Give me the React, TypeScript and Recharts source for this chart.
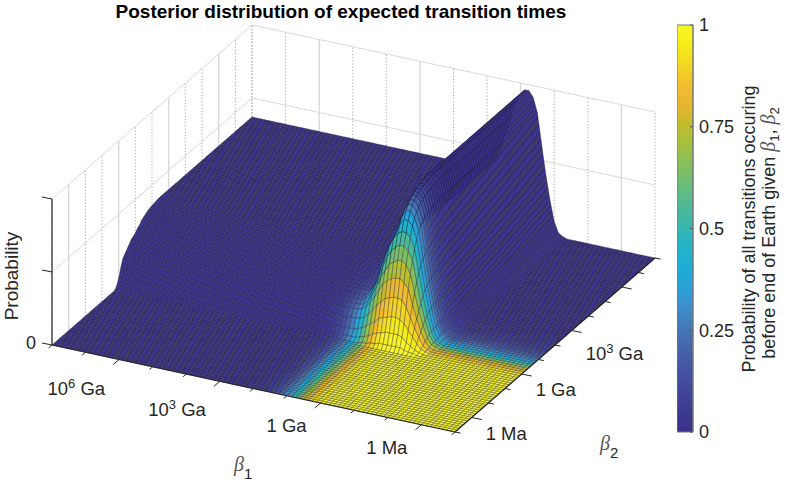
import React from "react";
import { BarChart, Bar, Scatter, ScatterChart, XAxis, YAxis } from "recharts";

const W = 785;
const H = 482;
const FONT = "'Liberation Sans', Arial, sans-serif";
const INK = "#262626";

// log10(beta / Ga) decades: 13 ticks on each floor edge
const beta1Ticks = [0, 1, 2, 3, 4, 5, 6, 7, 8, 9, 10, 11, 12];
const beta2Ticks = [0, 1, 2, 3, 4, 5, 6, 7, 8, 9, 10, 11, 12];
const beta1Major = [2, 5, 8, 11];
const beta2Major = [1, 4, 7, 10];
const beta1Labels = ["10^6 Ga", "10^3 Ga", "1 Ga", "1 Ma"];
const beta2Labels = ["1 Ma", "1 Ga", "10^3 Ga"];
const probTicks = [0, 0.5, 1];
const colorTicks = [0, 0.25, 0.5, 0.75, 1];

// colorbar read from bottom to top, one stop every 0.05
const colorStops = [
  "#3a3189", "#3d3a92", "#41469a", "#4453a2", "#4663a8", "#4676b5", "#3f8bc8",
  "#2b9fd8", "#1fabd7", "#22b3ca", "#33b7b0", "#4cb998", "#66bc7e", "#82bf60",
  "#9fc144", "#bdbd2e", "#e6b531", "#f1bd30", "#f3d624", "#f5ec18", "#f8f82a",
];

// Surface heights in percent of the z box. Columns run along beta1, rows along beta2.
const makeHeight = (plateau: number, ridge: number[]) =>
  [...Array(55).fill(plateau), ...ridge, ...Array(22).fill(0)];

const floorRow = makeHeight(0, [0, 0, 0, 0, 0, 0, 0, 0, 0, 0, 0, 0, 0, 0, 0, 0, 0, 0, 0, 0]);
const h30 = makeHeight(0, [0, 0, 0, 0, 1, 1, 2, 2, 3, 3, 3, 3, 3, 3, 2, 1, 1, 0, 0, 0]);
const h31 = makeHeight(2, [2, 2, 2, 3, 4, 5, 7, 8, 9, 10, 10, 10, 10, 9, 6, 4, 2, 1, 0, 0]);
const h32 = makeHeight(6, [6, 6, 7, 8, 10, 12, 14, 17, 18, 19, 20, 20, 19, 17, 13, 9, 5, 2, 1, 0]);
const h33 = makeHeight(12, [12, 12, 13, 14, 17, 20, 24, 27, 30, 31, 32, 32, 31, 27, 20, 14, 8, 3, 1, 0]);
const h34 = makeHeight(17, [17, 17, 18, 20, 24, 28, 33, 38, 41, 43, 44, 44, 42, 38, 28, 19, 11, 5, 1, 0]);
const h35 = makeHeight(19, [19, 19, 20, 23, 28, 34, 41, 46, 51, 53, 55, 55, 53, 47, 35, 23, 14, 6, 2, 1]);
const h36 = makeHeight(21, [21, 21, 23, 26, 32, 39, 47, 54, 59, 62, 64, 64, 61, 55, 41, 27, 16, 7, 2, 1]);
const h37 = makeHeight(23, [23, 23, 25, 29, 35, 44, 52, 60, 66, 70, 72, 72, 69, 62, 46, 31, 18, 8, 2, 1]);
const h38 = makeHeight(25, [25, 25, 26, 30, 35, 41, 50, 59, 68, 75, 79, 79, 76, 67, 50, 34, 20, 8, 2, 1]);
const h39 = makeHeight(26, [26, 26, 27, 29, 33, 41, 50, 61, 71, 79, 84, 84, 80, 72, 53, 36, 21, 9, 3, 1]);
const h40 = makeHeight(27, [27, 27, 28, 30, 34, 42, 52, 63, 74, 82, 87, 87, 83, 74, 55, 37, 22, 9, 3, 1]);
const h41 = makeHeight(29, [29, 29, 30, 32, 36, 44, 54, 65, 76, 84, 89, 89, 85, 76, 57, 38, 22, 9, 3, 1]);
const h42 = makeHeight(30, [30, 31, 31, 33, 38, 46, 56, 67, 78, 86, 91, 91, 87, 78, 58, 39, 23, 9, 3, 1]);
const h43 = makeHeight(32, [33, 34, 35, 38, 43, 50, 60, 70, 80, 87, 92, 92, 88, 79, 58, 39, 23, 10, 3, 1]);
const h44 = makeHeight(33, [34, 35, 36, 39, 44, 51, 61, 71, 81, 88, 93, 93, 89, 79, 59, 40, 23, 10, 3, 1]);
const h45 = makeHeight(34, [35, 36, 37, 40, 45, 52, 62, 72, 82, 89, 94, 94, 90, 80, 60, 40, 24, 10, 3, 1]);
const h46 = makeHeight(35, [36, 37, 38, 41, 46, 53, 63, 73, 82, 89, 94, 94, 90, 80, 60, 40, 24, 10, 3, 1]);
const h47 = makeHeight(35.5, [37, 38, 39, 42, 47, 54, 64, 74, 83, 90, 95, 95, 91, 81, 60, 41, 24, 10, 3, 1]);
const h48 = makeHeight(36, [37, 38, 39, 42, 47, 54, 64, 74, 83, 90, 95, 95, 91, 81, 60, 41, 24, 10, 3, 1]);
const h49 = makeHeight(36.3, [37, 38, 40, 43, 48, 55, 65, 75, 84, 91, 96, 96, 91, 81, 60, 41, 24, 10, 3, 1]);
const h50 = makeHeight(36.5, [37, 38, 40, 44, 49, 56, 66, 76, 85, 92, 96, 96, 92, 82, 61, 41, 24, 10, 3, 1]);
const farRow = makeHeight(37, [37, 38, 40, 44, 50, 58, 68, 78, 85, 92, 96, 96, 92, 82, 61, 41, 24, 10, 3, 1]);

const heightRows: number[][] = [
  ...Array(30).fill(floorRow),
  h30, h31, h32, h33, h34, h35, h36, h37, h38, h39, h40,
  h41, h42, h43, h44, h45, h46, h47, h48, h49, h50,
  ...Array(46).fill(farRow),
];

// Colour value in percent, same layout as the heights
const makeColor = (edge: number, band: number[]) =>
  [...Array(48).fill(0), ...band, ...Array(30).fill(edge)];

const c29 = makeColor(100, [1, 2, 3, 5, 8, 12, 18, 26, 34, 44, 55, 66, 76, 86, 93, 96, 98, 99, 100]);
const c30 = makeColor(99, [1, 2, 3, 5, 8, 12, 18, 26, 34, 44, 54, 65, 75, 85, 92, 95, 97, 98, 99]);
const c31 = makeColor(97, [1, 2, 3, 5, 8, 12, 17, 25, 33, 43, 53, 64, 74, 83, 90, 93, 95, 96, 97]);
const c32 = makeColor(93, [1, 2, 3, 5, 7, 11, 17, 24, 32, 41, 51, 61, 71, 80, 86, 89, 91, 92, 93]);
const c33 = makeColor(87, [1, 2, 3, 4, 7, 10, 16, 23, 30, 38, 48, 57, 66, 74, 78, 82, 84, 85, 86]);
const c34 = makeColor(80, [1, 2, 2, 4, 6, 10, 14, 21, 27, 35, 44, 53, 61, 68, 72, 75, 77, 78, 79]);
const c35 = makeColor(70, [1, 1, 2, 4, 6, 8, 13, 18, 24, 31, 39, 46, 53, 60, 63, 66, 67, 69, 69]);
const c36 = makeColor(60, [1, 1, 2, 3, 5, 7, 11, 16, 20, 26, 33, 40, 46, 51, 54, 56, 58, 59, 59]);
const c37 = makeColor(50, [1, 1, 2, 3, 4, 6, 9, 13, 17, 22, 28, 33, 38, 43, 45, 47, 48, 49, 50]);
const c38 = makeColor(40, [0, 1, 1, 2, 3, 5, 7, 10, 14, 18, 22, 26, 30, 34, 36, 38, 38, 39, 40]);
const c39 = makeColor(32, [0, 1, 1, 2, 3, 4, 6, 8, 11, 14, 18, 21, 24, 27, 29, 30, 31, 31, 32]);
const c40 = makeColor(26, [0, 1, 1, 1, 2, 3, 5, 7, 9, 11, 14, 17, 20, 22, 23, 24, 25, 25, 26]);
const c41 = makeColor(21, [0, 0, 1, 1, 2, 3, 4, 5, 7, 9, 12, 14, 16, 18, 19, 20, 20, 21, 21]);
const c42 = makeColor(16, [0, 0, 0, 1, 1, 2, 3, 4, 5, 7, 9, 10, 12, 13, 14, 14, 15, 15, 16]);
const c43 = makeColor(13, [0, 0, 0, 1, 1, 2, 2, 3, 4, 6, 7, 8, 9, 10, 11, 12, 12, 12, 13]);
const c44 = makeColor(10, [0, 0, 0, 0, 1, 1, 2, 3, 3, 4, 5, 6, 7, 8, 9, 9, 9, 10, 10]);
const c45 = makeColor(8, [0, 0, 0, 0, 1, 1, 1, 2, 3, 4, 4, 5, 6, 6, 7, 7, 7, 8, 8]);
const c46 = makeColor(6, [0, 0, 0, 0, 0, 1, 1, 2, 2, 3, 3, 4, 4, 5, 5, 5, 6, 6, 6]);
const c47 = makeColor(5, [0, 0, 0, 0, 0, 1, 1, 1, 2, 2, 3, 3, 4, 4, 4, 5, 5, 5, 5]);
const c48 = makeColor(4, [0, 0, 0, 0, 0, 0, 1, 1, 1, 2, 2, 3, 3, 3, 3, 4, 4, 4, 4]);
const c49 = makeColor(3, [0, 0, 0, 0, 0, 0, 1, 1, 1, 1, 2, 2, 2, 2, 3, 3, 3, 3, 3]);
const c50 = makeColor(2, [0, 0, 0, 0, 0, 0, 0, 1, 1, 1, 1, 1, 1, 2, 2, 2, 2, 2, 2]);
const c51 = makeColor(1, [0, 0, 0, 0, 0, 0, 0, 0, 0, 0, 1, 1, 1, 1, 1, 1, 1, 1, 1]);
const cZero = makeColor(0, [0, 0, 0, 0, 0, 0, 0, 0, 0, 0, 0, 0, 0, 0, 0, 0, 0, 0, 0]);

const colorRows: number[][] = [
  ...Array(30).fill(c29),
  c30, c31, c32, c33, c34, c35, c36, c37, c38, c39, c40,
  c41, c42, c43, c44, c45, c46, c47, c48, c49, c50, c51, c51,
  ...Array(44).fill(cZero),
];

// oblique view of the box, in pixels of the chart's data space
const project = (s: number, t: number, z: number) => ({
  px: 52 + 403 * s + 200 * t,
  py: 345 + 87 * s - 174 * t - 146 * z,
});

const hexToRgb = (hex: string) => [1, 3, 5].map((n) => parseInt(hex.slice(n, n + 2), 16));

const colorOf = (v: number) => {
  const pos = Math.min(0.9999, Math.max(0, v)) * (colorStops.length - 1);
  const k = Math.floor(pos);
  const a = hexToRgb(colorStops[k]);
  const b = hexToRgb(colorStops[k + 1]);
  const mix = a.map((c, n) => Math.round(c + (b[n] - c) * (pos - k)));
  return `rgb(${mix.join(",")})`;
};

// one entry per mesh cell, far cells first so near ones paint over them
const buildCells = () => {
  const cells: any[] = [];
  const n = heightRows.length - 1;
  for (let i = 0; i < n; i++) {
    for (let j = n - 1; j >= 0; j--) {
      const corners = [[i, j], [i + 1, j], [i + 1, j + 1], [i, j + 1]].map(([a, b]) =>
        project(a / n, b / n, heightRows[b][a] / 100)
      );
      const px = corners.reduce((sum, p) => sum + p.px, 0) / 4;
      const py = corners.reduce((sum, p) => sum + p.py, 0) / 4;
      const c =
        (colorRows[j][i] + colorRows[j][i + 1] + colorRows[j + 1][i] + colorRows[j + 1][i + 1]) / 400;
      cells.push({
        px,
        py,
        fill: colorOf(c),
        d: corners.map((p) => [p.px - px, p.py - py]),
      });
    }
  }
  return cells;
};

const cells = buildCells();

const CellShape = (props: any) => {
  const { cx, cy, payload } = props;
  const d =
    payload.d
      .map((p: number[], k: number) => `${k ? "L" : "M"}${(cx + p[0]).toFixed(2)} ${(cy + p[1]).toFixed(2)}`)
      .join("") + "Z";
  return <path d={d} fill={payload.fill} stroke="#1c1c2c" strokeOpacity={0.85} strokeWidth={0.4} strokeLinejoin="round" />;
};

const renderLabel = (text: string) => {
  const parts = text.split("^");
  if (parts.length === 1) return text;
  return (
    <>
      {parts[0]}
      <tspan dy={-7} fontSize={13}>{parts[1][0]}</tspan>
      <tspan dy={7}>{parts[1].slice(1)}</tspan>
    </>
  );
};

const TextShape = (props: any) => {
  const { cx, cy, payload } = props;
  return (
    <text
      x={cx}
      y={cy}
      textAnchor={payload.anchor}
      fontFamily={FONT}
      fontSize={payload.size || 18.5}
      fontWeight={payload.weight || "normal"}
      fill={payload.fill || INK}
      transform={payload.rotate ? `rotate(${payload.rotate} ${cx} ${cy})` : undefined}
    >
      {renderLabel(payload.text)}
    </text>
  );
};

const GreekShape = (props: any) => {
  const { cx, cy, payload } = props;
  return (
    <text x={cx} y={cy} fontFamily="'Liberation Serif', serif" fontSize={20} fontStyle="italic" fill="#555">
      β
      <tspan dy={8} fontFamily={FONT} fontStyle="normal" fontSize={15} fill={INK}>{payload.sub}</tspan>
    </text>
  );
};

const RotatedNote = (props: any) => {
  const { cx, cy, payload } = props;
  return (
    <text x={cx} y={cy} textAnchor="middle" fontFamily={FONT} fontSize={18} fill={INK} transform={`rotate(-90 ${cx} ${cy})`}>
      {payload.text}
      {payload.math && (
        <>
          <tspan fontFamily="'Liberation Serif', serif" fontStyle="italic" fontSize={20} fill="#555"> β</tspan>
          <tspan dy={4} fontSize={13}>1</tspan>
          <tspan dy={-4}>, </tspan>
          <tspan fontFamily="'Liberation Serif', serif" fontStyle="italic" fontSize={20} fill="#555">β</tspan>
          <tspan dy={4} fontSize={13}>2</tspan>
        </>
      )}
    </text>
  );
};

const noMark = () => <g />;

const segment = (key: string, a: any, b: any, stroke: string, width: number, dash?: string) => (
  <Scatter
    key={key}
    data={[a, b]}
    line={{ stroke, strokeWidth: width, strokeDasharray: dash }}
    shape={noMark}
    isAnimationActive={false}
  />
);

const GRID = "#d9d9d9";
const DOT = "#a8a8a8";

export default function App() {
  const walls = [
    segment("w1", project(0, 0, 1), project(0, 1, 1), GRID, 1),
    segment("w2", project(0, 0, 0.5), project(0, 1, 0.5), GRID, 1),
    segment("w3", project(0, 1, 1), project(1, 1, 1), GRID, 1),
    segment("w4", project(0, 1, 0.5), project(1, 1, 0.5), GRID, 1),
    ...beta2Ticks.map((k) => {
      const major = beta2Major.includes(k);
      return segment(`lw${k}`, project(0, k / 12, 0), project(0, k / 12, 1), major ? GRID : DOT, major ? 1.4 : 1, major ? undefined : "1.2 2");
    }),
    ...beta1Ticks.map((k) => {
      const major = beta1Major.includes(k);
      return segment(`rw${k}`, project(k / 12, 1, 0), project(k / 12, 1, 1), major ? GRID : DOT, major ? 1.4 : 1, major ? undefined : "1.2 2");
    }),
  ];

  const axes = [
    segment("ax1", project(0, 0, 0), project(1, 0, 0), INK, 1.2),
    segment("ax2", project(1, 0, 0), project(1, 1, 0), INK, 1.2),
    segment("ax3", project(0, 0, 0), project(0, 0, 1), INK, 1.2),
    ...beta1Ticks.map((k) => {
      const a = project(k / 12, 0, 0);
      const len = beta1Major.includes(k) ? 1 : 0.55;
      return segment(`t1${k}`, a, { px: a.px - 6 * len, py: a.py + 5 * len }, INK, 1);
    }),
    ...beta2Ticks.map((k) => {
      const a = project(1, k / 12, 0);
      const len = beta2Major.includes(k) ? 1 : 0.55;
      return segment(`t2${k}`, a, { px: a.px + 10 * len, py: a.py + 2 * len }, INK, 1);
    }),
    ...probTicks.map((p) => {
      const a = project(0, 0, p);
      return segment(`tz${p}`, a, { px: a.px - 10, py: a.py - 2 }, INK, 1);
    }),
  ];

  const texts = [
    { px: 36, py: 349, text: "0", anchor: "end", size: 18 },
    ...beta1Labels.map((text, n) => {
      const a = project(beta1Major[n] / 12, 0, 0);
      return { px: a.px - 14, py: a.py + (text.includes("^") ? 35 : 29), text, anchor: "end" };
    }),
    ...beta2Labels.map((text, n) => {
      const a = project(1, beta2Major[n] / 12, 0);
      return { px: a.px + 14, py: a.py + (text.includes("^") ? 29 : 22), text, anchor: "start" };
    }),
    { px: 341, py: 18, text: "Posterior distribution of expected transition times", anchor: "middle", size: 19, weight: "bold", fill: "#000" },
    { px: 18, py: 276, text: "Probability", anchor: "middle", size: 19, rotate: -90 },
  ];

  return (
    <div style={{ position: "absolute", left: 0, top: 0, width: W, height: H, background: "#fff" }}>
      <div style={{ position: "absolute", left: 0, top: 0 }}>
        <ScatterChart width={W} height={H} margin={{ top: 0, right: 0, bottom: 0, left: 0 }}>
          <XAxis type="number" dataKey="px" domain={[0, W]} hide />
          <YAxis type="number" dataKey="py" domain={[0, H]} reversed hide />
          {walls}
          <Scatter data={cells} shape={CellShape} isAnimationActive={false} />
          {axes}
          <Scatter data={texts} shape={TextShape} isAnimationActive={false} />
          <Scatter data={[{ px: 234, py: 471, sub: "1" }, { px: 600, py: 450, sub: "2" }]} shape={GreekShape} isAnimationActive={false} />
          <Scatter
            data={[
              { px: 755, py: 229, text: "Probability of all transitions occuring" },
              { px: 775, py: 233, text: "before end of Earth given", math: true },
            ]}
            shape={RotatedNote}
            isAnimationActive={false}
          />
        </ScatterChart>
      </div>
      <div style={{ position: "absolute", left: 677, top: 0 }}>
        <BarChart
          width={60}
          height={H}
          data={[{ name: "c", value: 1 }]}
          margin={{ top: 25, right: 0, bottom: 50, left: 0 }}
          barCategoryGap={0}
        >
          <defs>
            <linearGradient id="colorbar" x1="0" y1="1" x2="0" y2="0">
              {colorStops.map((c, n) => (
                <stop key={c + n} offset={n / (colorStops.length - 1)} stopColor={c} />
              ))}
            </linearGradient>
          </defs>
          <XAxis dataKey="name" hide />
          <YAxis
            orientation="right"
            width={44}
            domain={[0, 1]}
            ticks={colorTicks}
            tickFormatter={(v: number) => String(v)}
            axisLine={{ stroke: "#777" }}
            tickSize={-3}
            tickMargin={9}
            tickLine={{ stroke: "#555" }}
            tick={{ fill: INK, fontFamily: FONT, fontSize: 18 }}
          />
          <Bar dataKey="value" fill="url(#colorbar)" stroke="#777" isAnimationActive={false} />
        </BarChart>
      </div>
    </div>
  );
}
